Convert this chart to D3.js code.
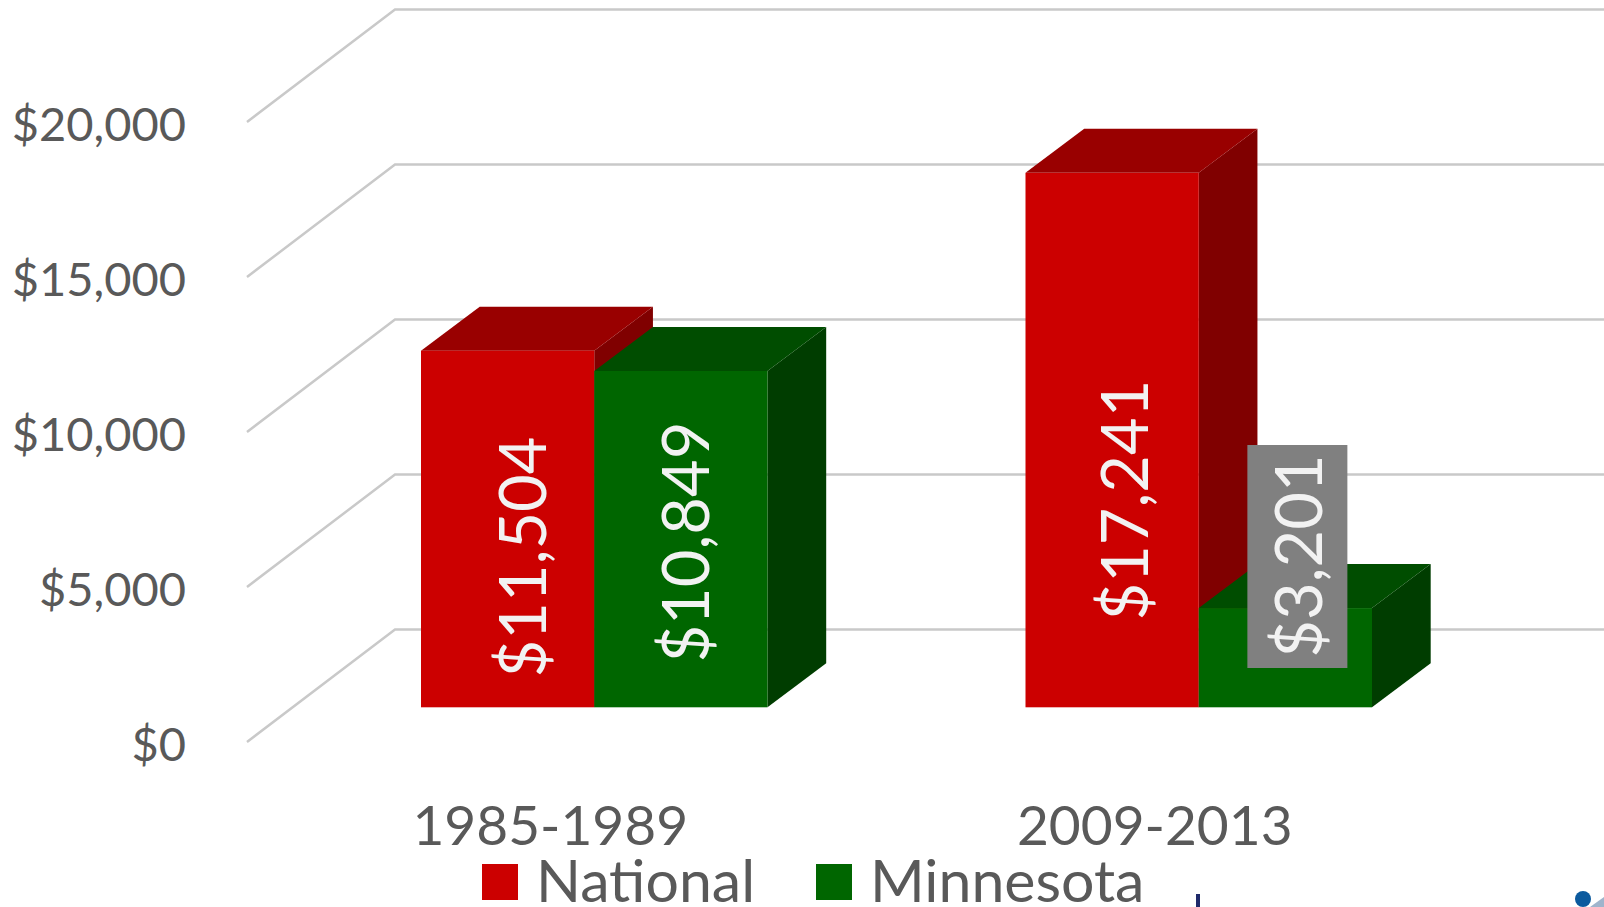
<!DOCTYPE html>
<html>
<head>
<meta charset="utf-8">
<script src="https://cdnjs.cloudflare.com/ajax/libs/d3/7.8.5/d3.min.js"></script>
<style>
  html, body { margin: 0; padding: 0; background: #fff; overflow: hidden; }
  text { font-family: Lato, "Open Sans", sans-serif; }
</style>
</head>
<body>
<div id="chart"></div>
<script>
// Data
var categories = ["1985-1989", "2009-2013"];
var seriesNames = ["National", "Minnesota"];
var nationalValues = [11504, 17241];
var minnesotaValues = [10849, 3201];
var valueTicks = [0, 5000, 10000, 15000, 20000];

var seriesValues = [nationalValues, minnesotaValues];
var colors = [
  {front: "#cc0000", top: "#990000", side: "#800000"},
  {front: "#006600", top: "#004d00", side: "#003d00"}
];

var width = 1604;
var height = 907;

// Set up the fake 3D: wall is pushed back by wallDx/wallDy, bars stand on the floor
var wallDx = 148, wallDy = 112.5;
var frontLeft = 247;
var barDx = 58.7, barDy = 44;
var floorDrop = 34.7; // how far the bars' front edge sits above the front of the floor

var svg = d3.select("#chart")
  .append("svg")
  .attr("width", width)
  .attr("height", height);

// Scales
var y = d3.scaleLinear().domain([0, 20000]).range([742, 122]);

var x0 = d3.scaleBand().domain(categories).range([292, 1501]);

var x1 = d3.scaleBand()
  .domain(seriesNames)
  .range([129, x0.bandwidth() - 129]);

// Gridlines: slanted floor part + back wall part
svg.append("g").selectAll("path")
  .data(valueTicks)
  .enter().append("path")
  .attr("fill", "none")
  .attr("stroke", "#c9c9c9")
  .attr("stroke-width", 2.5)
  .attr("d", d => d3.line()([
    [frontLeft, y(d)],
    [frontLeft + wallDx, y(d) - wallDy],
    [width, y(d) - wallDy]
  ]));

// Axes
var yAxis = svg.append("g")
  .attr("transform", "translate(" + frontLeft + ",3)")
  .call(d3.axisLeft(y)
    .tickValues(valueTicks)
    .tickSize(0)
    .tickPadding(61)
    .tickFormat(d3.format("$,")));
yAxis.select(".domain").remove();
yAxis.selectAll("text")
  .attr("font-size", 47)
  .attr("font-family", null)
  .attr("fill", "#595959");

var xAxis = svg.append("g")
  .attr("transform", "translate(-44,806)")
  .call(d3.axisBottom(x0).tickSize(0).tickPadding(0));
xAxis.select(".domain").remove();
xAxis.selectAll("text")
  .attr("font-size", 55)
  .attr("font-family", null)
  .attr("fill", "#595959");

// Bars
function barY(v) { return y(v) - floorDrop; }
var base = barY(0);

categories.forEach(function(cat, c) {
  seriesNames.forEach(function(name, s) {
    var v = seriesValues[s][c];
    var left = x0(cat) + x1(name);
    var right = left + x1.bandwidth();
    var top = barY(v);
    var g = svg.append("g");

    g.append("polygon")
      .attr("fill", colors[s].side)
      .attr("points", [[right, top], [right + barDx, top - barDy], [right + barDx, base - barDy], [right, base]].join(" "));
    g.append("polygon")
      .attr("fill", colors[s].top)
      .attr("points", [[left, top], [left + barDx, top - barDy], [right + barDx, top - barDy], [right, top]].join(" "));
    g.append("rect")
      .attr("x", left)
      .attr("y", top)
      .attr("width", x1.bandwidth())
      .attr("height", base - top)
      .attr("fill", colors[s].front);
  });
});

// Data labels, they were dragged around by hand in the original so each has its own shift
var labelShift = [
  [[13, 28], [3, 3]],
  [[11, 60], [12, 0]]
];

categories.forEach(function(cat, c) {
  seriesNames.forEach(function(name, s) {
    var v = seriesValues[s][c];
    var cx = x0(cat) + x1(name) + x1.bandwidth() / 2 + labelShift[c][s][0];
    var cy = (barY(v) + base) / 2 + labelShift[c][s][1];
    var boxed = c === 1 && s === 1;
    if (boxed) {
      svg.append("rect")
        .attr("x", cx - 50)
        .attr("y", 445)
        .attr("width", 100)
        .attr("height", 223)
        .attr("fill", "#808080");
      cy = 556;
    }
    svg.append("text")
      .attr("transform", "translate(" + cx + "," + cy + ") rotate(-90)")
      .attr("text-anchor", "middle")
      .attr("dominant-baseline", "central")
      .attr("font-size", 65)
      .attr("fill", "#f2f2f2")
      .text(d3.format("$,")(v));
  });
});

// Legend
var legendX = d3.scaleOrdinal().domain(seriesNames).range([482, 816]);
var legend = svg.append("g").selectAll("g")
  .data(seriesNames)
  .enter().append("g")
  .attr("transform", d => "translate(" + legendX(d) + ",864)");
legend.append("rect")
  .attr("width", 36)
  .attr("height", 36)
  .attr("fill", (d, i) => colors[i].front);
legend.append("text")
  .attr("x", 54)
  .attr("y", 38)
  .attr("font-size", 59)
  .attr("fill", "#595959")
  .text(d => d);

// Bits of a logo poking in at the bottom edge of the screenshot
svg.append("rect")
  .attr("x", 1196).attr("y", 894).attr("width", 4).attr("height", 13)
  .attr("fill", "#1f2a6b");
svg.append("circle")
  .attr("cx", 1583).attr("cy", 899).attr("r", 8)
  .attr("fill", "#0b5a9e");
svg.append("polygon")
  .attr("points", "1590,907 1604,897 1604,907")
  .attr("fill", "#9fb4cc");
</script>
</body>
</html>
